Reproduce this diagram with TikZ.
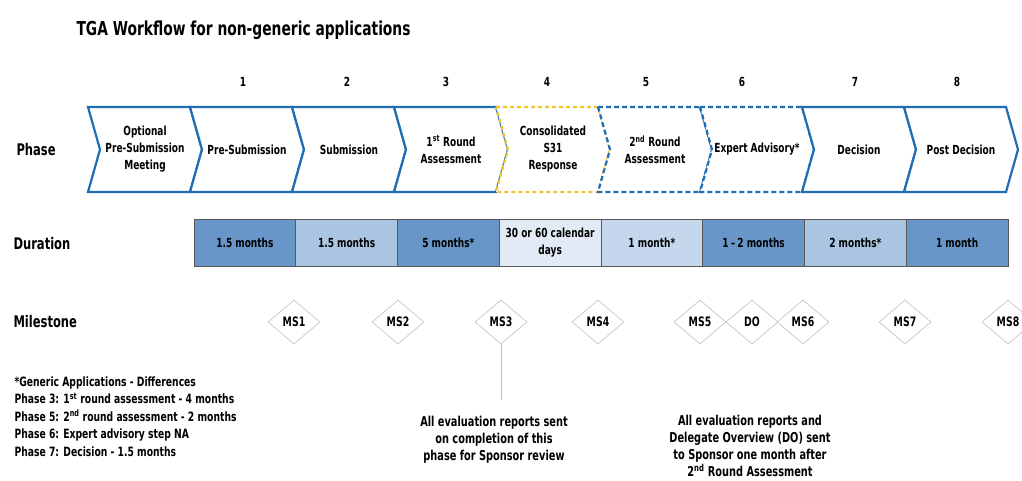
\documentclass[tikz,border=0pt]{standalone}
\usepackage{fontspec}
\setmainfont{DejaVu Sans}[FakeStretch=0.72]
\usepackage{tikz}
\usetikzlibrary{shapes.geometric}
\definecolor{tgablue}{RGB}{31,110,180}
\definecolor{tgayellow}{RGB}{240,194,48}
\definecolor{durdark}{RGB}{104,150,201}
\definecolor{durmid}{RGB}{169,197,226}
\definecolor{durlight}{RGB}{197,215,236}
\definecolor{durpale}{RGB}{226,235,245}
\tikzset{chevsolid/.style={draw=tgablue, line width=2.2pt, fill=white, line join=miter},
  chevyellow/.style={chevsolid, draw=tgayellow, dash pattern=on 4pt off 3pt},
  chevblue/.style={chevsolid, dash pattern=on 5pt off 3pt},
  chevtext/.style={align=center, font=\bfseries\fontsize{12.5}{17}\selectfont},
  rowlabel/.style={anchor=west, font=\bfseries\fontsize{16}{18}\selectfont},
  durcell/.style={draw=black!65, line width=0.8pt, fill=#1, minimum width=101.75pt, minimum height=47pt,
    inner sep=0pt, align=center, font=\bfseries\fontsize{12.5}{17}\selectfont},
  milestone/.style={diamond, draw=black!25, line width=0.6pt, minimum width=52pt, minimum height=44pt,
    inner sep=0pt, font=\bfseries\fontsize{13}{15}\selectfont},
  notetext/.style={align=center, font=\bfseries\fontsize{13.6}{17.2}\selectfont}}
\newcommand{\chev}[2]{\draw[#2] (#1,107) -- ++(102,0) -- ++(12,42.5) -- ++(-12,42.5) -- ++(-102,0) -- ++(12,-42.5) -- cycle;}

\begin{document}
\begin{tikzpicture}[x=1pt,y=-1pt]
\useasboundingbox (0,0) rectangle (1022,480);
\node[anchor=west, font=\bfseries\fontsize{19.2}{22}\selectfont] (title) at (73,30) {TGA Workflow for non-generic applications};
% phase chevrons
\chev{88}{chevsolid}
\chev{190}{chevsolid}
\chev{292}{chevsolid}
\chev{394}{chevsolid}
\chev{496}{chevyellow}
\chev{598}{chevblue}
\chev{700}{chevblue}
\chev{802}{chevsolid}
\chev{904}{chevsolid}
\node[chevtext] (ph0) at (145,149.5) {Optional\\Pre-Submission\\Meeting};
\node[chevtext] (ph1) at (247,149.5) {Pre-Submission};
\node[chevtext] (ph2) at (349,149.5) {Submission};
\node[chevtext] (ph3) at (451,149.5) {1\textsuperscript{st} Round\\Assessment};
\node[chevtext] (ph4) at (553,149.5) {Consolidated\\S31\\Response};
\node[chevtext] (ph5) at (655,149.5) {2\textsuperscript{nd} Round\\Assessment};
\node[chevtext] (ph6) at (757,149.5) {Expert Advisory*};
\node[chevtext] (ph7) at (859,149.5) {Decision};
\node[chevtext] (ph8) at (961,149.5) {Post Decision};
\foreach \n/\xx in {1/243, 2/347, 3/446, 4/547, 5/646, 6/742, 7/855, 8/957}
  \node[chevtext] (num\n) at (\xx,82) {\n};
\node[rowlabel] (phaselbl) at (13,150) {Phase};
\node[rowlabel] (durlbl) at (10,244) {Duration};
\node[rowlabel] (mslbl) at (10,322) {Milestone};
% durations
\foreach \lab/\col [count=\i] in {1.5 months/durdark, 1.5 months/durmid, 5 months*/durdark,
    {30 or 60 calendar\\days}/durpale, 1 month*/durlight, 1\,--\,2 months/durdark,
    2 months*/durmid, 1 month/durdark}
  \node[durcell=\col] (dur\i) at ({194+101.75*(\i-0.5)},242.5) {\lab};
% milestones
\foreach \lab/\xx in {MS1/294, MS2/398, MS3/501, MS4/598, MS5/700, DO/752, MS6/803, MS7/905, MS8/1008}
  \node[milestone] (\lab) at (\xx,322) {\lab};
\coordinate (ms3end) at (501,400);
\draw[black!25, line width=1pt] (MS3.south) -- (ms3end);
\node[notetext] (note3) at (494,440) {All evaluation reports sent\\on completion of this\\phase for Sponsor review};
\node[notetext] (note6) at (750,446) {All evaluation reports and\\Delegate Overview (DO) sent\\to Sponsor one month after\\2\textsuperscript{nd} Round Assessment};
\node[notetext, align=left, anchor=north west, font=\bfseries\fontsize{12.8}{17.5}\selectfont] (generic) at (11,373) {*Generic Applications - Differences\\Phase 3: 1\textsuperscript{st} round assessment - 4 months\\Phase 5: 2\textsuperscript{nd} round assessment - 2 months\\Phase 6: Expert advisory step NA\\Phase 7: Decision - 1.5 months};
\end{tikzpicture}
\end{document}
